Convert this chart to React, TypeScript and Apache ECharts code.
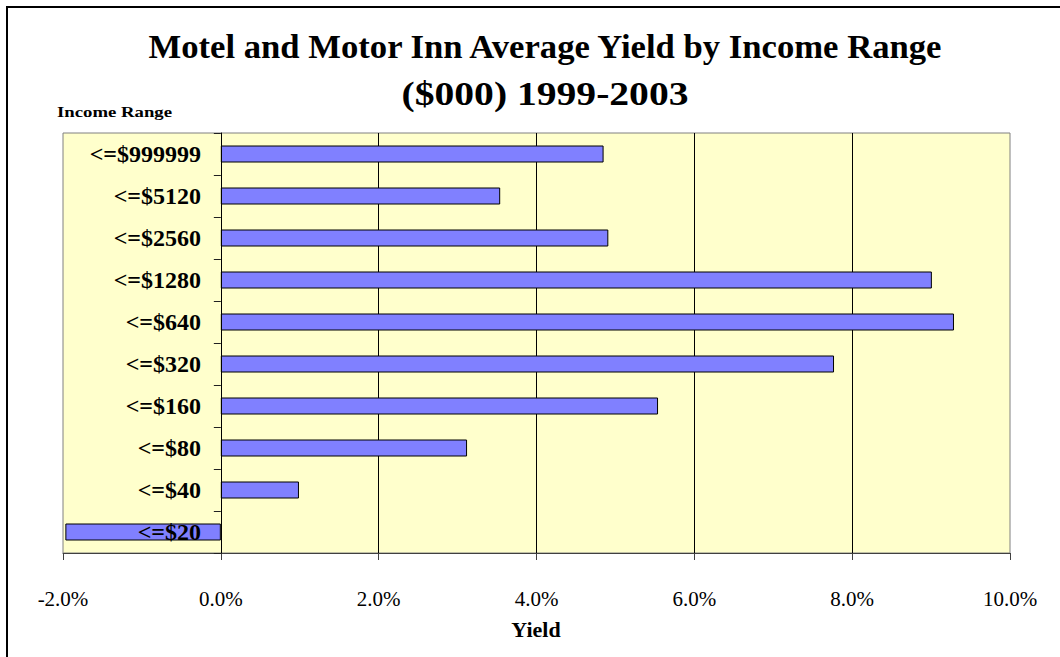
import React, { useEffect, useRef } from "react";
import * as echarts from "echarts";

const categories = ["<=$20", "<=$40", "<=$80", "<=$160", "<=$320", "<=$640", "<=$1280", "<=$2560", "<=$5120", "<=$999999"];
const yieldValues = [-1.97, 0.99, 3.12, 5.54, 7.77, 9.29, 9.01, 4.91, 3.54, 4.85];
const titleLines = ["Motel and Motor Inn Average Yield by Income Range", "($000) 1999-2003"];
const yAxisTitle = "Income Range";
const xAxisTitle = "Yield";

const FONT = "'Liberation Serif', 'Times New Roman', serif";

export default function App() {
  const ref = useRef<HTMLDivElement>(null);
  useEffect(() => {
    if (!ref.current) return;
    const chart = echarts.init(ref.current, undefined, { renderer: "svg" });
    chart.setOption({
      animation: false,
      backgroundColor: "#ffffff",
      grid: {
        left: 63,
        right: 50,
        top: 133,
        bottom: 104,
        containLabel: false,
        outerBoundsMode: "none",
        show: true,
        backgroundColor: "#FFFFCC",
        borderColor: "#808080",
        borderWidth: 1,
      },
      xAxis: {
        type: "value",
        min: -2,
        max: 10,
        interval: 2,
        axisLine: { show: true, lineStyle: { color: "#404040", width: 1 } },
        axisTick: { show: true, length: 7, inside: false, lineStyle: { color: "#404040" } },
        splitLine: { show: true, showMinLine: false, showMaxLine: false, lineStyle: { color: "#000000", width: 1 } },
        axisLabel: {
          margin: 35,
          fontFamily: FONT,
          fontSize: 21,
          color: "#000",
          formatter: (v: number) => v.toFixed(1) + "%",
        },
      },
      yAxis: {
        type: "category",
        data: categories,
        z: 10,
        axisLine: { show: true, onZero: true, lineStyle: { color: "#000000", width: 1 } },
        axisTick: { show: true, length: 7, lineStyle: { color: "#202020" } },
        splitLine: { show: false },
        axisLabel: {
          margin: -138,
          fontFamily: FONT,
          fontSize: 24,
          fontWeight: "bold",
          color: "#000",
          align: "right",
        },
      },
      series: [
        {
          type: "bar",
          data: yieldValues,
          barWidth: 17,
          z: 2,
          itemStyle: { color: "#8080FF", borderColor: "#000000", borderWidth: 1 },
        },
      ],
      graphic: [
        { type: "line", shape: { x1: 7, y1: 7, x2: 7, y2: 657 }, style: { stroke: "#000", lineWidth: 2 } },
        { type: "line", shape: { x1: 6, y1: 7, x2: 1060, y2: 7 }, style: { stroke: "#000", lineWidth: 2 } },
        {
          type: "text",
          x: 545,
          y: 47,
          scaleX: 1.05,
          style: { text: titleLines[0], fontFamily: FONT, fontSize: 33, fontWeight: "bold", fill: "#000", align: "center", verticalAlign: "middle" },
        },
        {
          type: "text",
          x: 545,
          y: 94,
          scaleX: 1.2,
          style: { text: titleLines[1], fontFamily: FONT, fontSize: 33, fontWeight: "bold", fill: "#000", align: "center", verticalAlign: "middle" },
        },
        {
          type: "text",
          x: 57,
          y: 112,
          scaleX: 1.25,
          style: { text: yAxisTitle, fontFamily: FONT, fontSize: 15, fontWeight: "bold", fill: "#000", align: "left", verticalAlign: "middle" },
        },
        {
          type: "text",
          x: 536,
          y: 630,
          scaleX: 1.1,
          style: { text: xAxisTitle, fontFamily: FONT, fontSize: 20, fontWeight: "bold", fill: "#000", align: "center", verticalAlign: "middle" },
        },
      ],
    });
    return () => chart.dispose();
  }, []);
  return <div ref={ref} style={{ position: "fixed", left: 0, top: 0, width: 1060, height: 657 }} />;
}
